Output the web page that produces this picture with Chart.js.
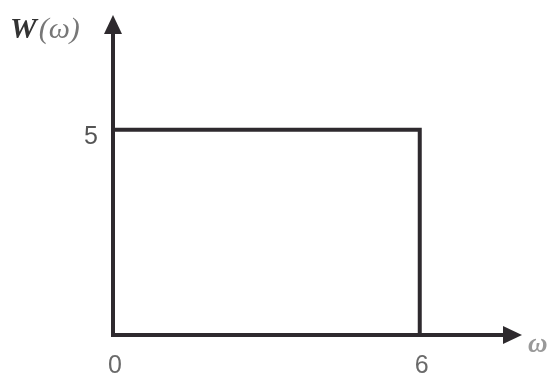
<!DOCTYPE html>
<html><head><meta charset="utf-8">
<script src="https://cdn.jsdelivr.net/npm/chart.js@4"></script>
<style>html,body{margin:0;padding:0;background:#fff}#wrap{width:549px;height:390px}</style>
</head><body><div id="wrap"><canvas id="c" width="549" height="390"></canvas></div>
<script>
const omega = [0, 6, 6];
const W = [5, 5, 0];
const xTicks = [0, 6];
const yTicks = [5];
const xMax = 8, yMax = 7.8;
const xLabel = 'ω';
const yLabel = 'W(ω)';

const axesPlugin = {
  id: 'axesArrows',
  afterDatasetsDraw(chart) {
    const {ctx, scales: {x, y}} = chart;
    const x0 = x.getPixelForValue(0), y0 = y.getPixelForValue(0);
    const xe = x.getPixelForValue(xMax), ye = y.getPixelForValue(yMax);
    ctx.save();
    ctx.strokeStyle = '#2e2a2e'; ctx.fillStyle = '#2e2a2e'; ctx.lineWidth = 4;
    ctx.beginPath(); ctx.moveTo(x0, y0 + 2); ctx.lineTo(x0, ye + 14); ctx.stroke();
    ctx.beginPath(); ctx.moveTo(x0 - 2, y0); ctx.lineTo(xe - 14, y0); ctx.stroke();
    ctx.beginPath(); ctx.moveTo(x0, ye); ctx.lineTo(x0 - 9, ye + 19); ctx.lineTo(x0 + 9, ye + 19); ctx.closePath(); ctx.fill();
    ctx.beginPath(); ctx.moveTo(xe, y0); ctx.lineTo(xe - 19, y0 - 9); ctx.lineTo(xe - 19, y0 + 9); ctx.closePath(); ctx.fill();
    ctx.textAlign = 'center'; ctx.textBaseline = 'middle';
    ctx.font = '25px "Liberation Sans", Arial, sans-serif';
    ctx.fillStyle = '#6a6a6a';
    xTicks.forEach(v => ctx.fillText(String(v), x.getPixelForValue(v) + 2, y0 + 31));
    ctx.fillStyle = '#555';
    yTicks.forEach(v => ctx.fillText(String(v), x0 - 22, y.getPixelForValue(v) + 7));
    ctx.textAlign = 'left';
    ctx.font = 'italic bold 27px "Liberation Serif", "DejaVu Serif", serif';
    ctx.fillStyle = '#999';
    ctx.fillText(xLabel, xe + 6, y0 + 10);
    ctx.font = 'italic bold 30px "Liberation Serif", "DejaVu Serif", serif';
    ctx.fillStyle = '#333';
    const first = yLabel.slice(0, 1), rest = yLabel.slice(1);
    ctx.fillText(first, 10, 30);
    const w1 = ctx.measureText(first).width;
    ctx.font = 'italic 30px "Liberation Serif", "DejaVu Serif", serif';
    ctx.fillStyle = '#777';
    ctx.fillText(rest, 10 + w1 + 2, 30);
    ctx.restore();
  }
};

new Chart(document.getElementById('c'), {
  type: 'line',
  data: {
    datasets: [{
      data: omega.map((v, i) => ({x: v, y: W[i]})),
      borderColor: '#2e2a2e', borderWidth: 4, pointRadius: 0, fill: false, tension: 0
    }]
  },
  options: {
    responsive: false, animation: false,
    layout: {padding: {left: 113, right: 27, top: 15, bottom: 55}},
    plugins: {legend: {display: false}, tooltip: {enabled: false}},
    scales: {
      x: {type: 'linear', min: 0, max: xMax, display: false},
      y: {type: 'linear', min: 0, max: yMax, display: false}
    }
  },
  plugins: [axesPlugin]
});
</script></body></html>
